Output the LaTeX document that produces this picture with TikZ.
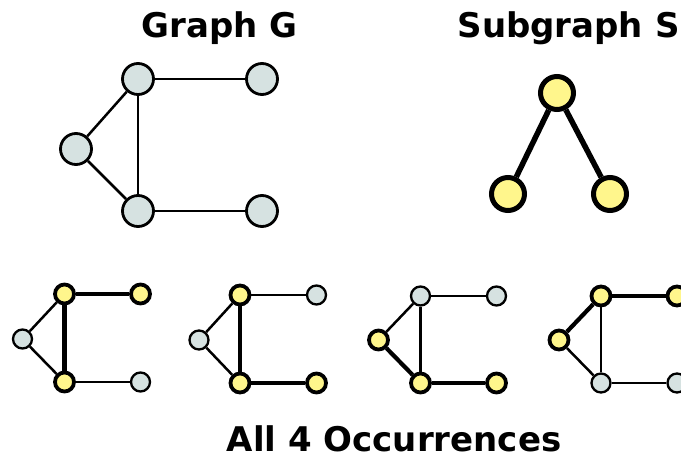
\documentclass[tikz,border=0pt]{standalone}
\usepackage{fontspec}
\setmainfont{DejaVu Sans}
\usepackage{tikz}

\definecolor{nodegray}{RGB}{214,226,225}
\definecolor{nodeyellow}{RGB}{255,246,140}

\tikzset{
  big/.style={circle,draw,line width=2.8pt,fill=nodegray,inner sep=0pt,minimum size=31pt},
  bigsub/.style={circle,draw,line width=5pt,fill=nodeyellow,inner sep=0pt,minimum size=33pt},
  small/.style={circle,draw,line width=2.3pt,fill=nodegray,inner sep=0pt,minimum size=19pt},
  hit/.style={small,line width=3.8pt,fill=nodeyellow},
  edge/.style={line width=2.5pt},
  match/.style={line width=5.5pt},
  thin match/.style={line width=4.2pt},
  title/.style={font=\bfseries\fontsize{34}{40}\selectfont,anchor=base}
}

\begin{document}
\begin{tikzpicture}[x=1pt,y=-1pt]
\useasboundingbox (0,0) rectangle (681,458);
\clip (0,0) rectangle (681,458);

\node[title] (tg) at (219.5,37) {Graph G};
\node[title] (ts) at (568.5,37) {Subgraph S};
\node[title] (tall) at (394,451) {All 4 Occurrences};

% graph G
\node[big] (g1) at (138,79) {};
\node[big] (g2) at (262,79) {};
\node[big] (g3) at (76,149) {};
\node[big] (g4) at (138,211) {};
\node[big] (g5) at (262,211) {};

\draw[edge] (g1) -- (g2);
\draw[edge] (g1) -- (g3);
\draw[edge] (g1) -- (g4);
\draw[edge] (g3) -- (g4);
\draw[edge] (g4) -- (g5);

% subgraph S
\node[bigsub] (s1) at (557,93) {};
\node[bigsub] (s2) at (508,194) {};
\node[bigsub] (s3) at (610,194) {};

\draw[match] (s1) -- (s2);
\draw[match] (s1) -- (s3);

% occurrence 1
\node[hit] (a1) at (64.5,294) {};
\node[hit] (a2) at (140.5,294) {};
\node[small] (a3) at (22.5,339) {};
\node[hit] (a4) at (64.5,382) {};
\node[small] (a5) at (140.5,382) {};

\draw[thin match] (a1) -- (a2);
\draw[edge] (a1) -- (a3);
\draw[thin match] (a1) -- (a4);
\draw[edge] (a3) -- (a4);
\draw[edge] (a4) -- (a5);

% occurrence 2
\node[hit] (b1) at (240,295) {};
\node[small] (b2) at (316.5,295) {};
\node[small] (b3) at (199,340) {};
\node[hit] (b4) at (240,383) {};
\node[hit] (b5) at (316.5,383) {};

\draw[edge] (b1) -- (b2);
\draw[edge] (b1) -- (b3);
\draw[thin match] (b1) -- (b4);
\draw[edge] (b3) -- (b4);
\draw[thin match] (b4) -- (b5);

% occurrence 3
\node[small] (c1) at (420.5,296) {};
\node[small] (c2) at (496.5,296) {};
\node[hit] (c3) at (378.5,340) {};
\node[hit] (c4) at (420.5,383) {};
\node[hit] (c5) at (496.5,383) {};

\draw[edge] (c1) -- (c2);
\draw[edge] (c1) -- (c3);
\draw[edge] (c1) -- (c4);
\draw[thin match] (c3) -- (c4);
\draw[thin match] (c4) -- (c5);

% occurrence 4
\node[hit] (d1) at (601,296) {};
\node[hit] (d2) at (677,296) {};
\node[hit] (d3) at (559,340) {};
\node[small] (d4) at (601,383) {};
\node[small] (d5) at (677,383) {};

\draw[thin match] (d1) -- (d2);
\draw[thin match] (d1) -- (d3);
\draw[edge] (d1) -- (d4);
\draw[edge] (d3) -- (d4);
\draw[edge] (d4) -- (d5);
\end{tikzpicture}
\end{document}
